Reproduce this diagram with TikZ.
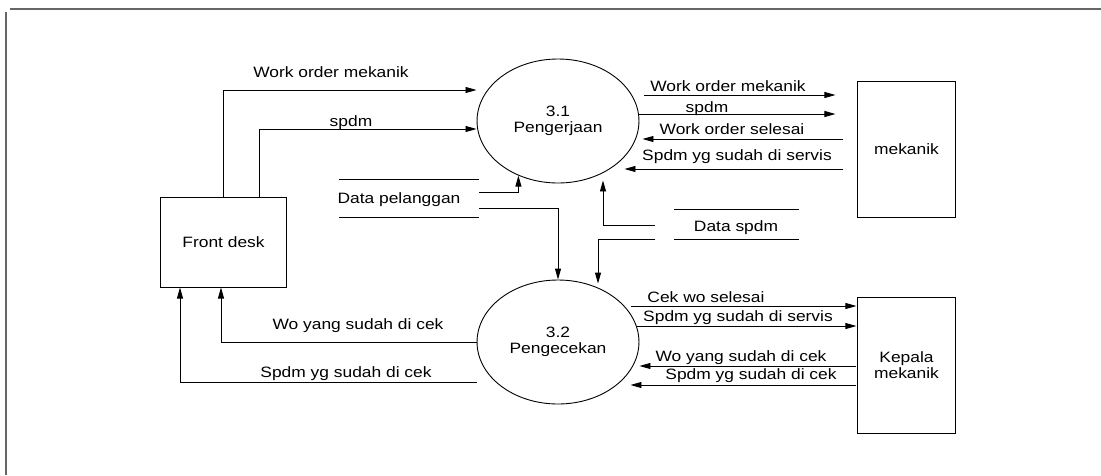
\documentclass[tikz,border=0pt]{standalone}
\usepackage{fontspec}
\setmainfont{Liberation Sans}
\usepackage{tikz}
\usetikzlibrary{arrows.meta, shapes.geometric, positioning}
\tikzset{proses/.style={draw, ellipse, line width=.9pt, minimum width=139.6pt, minimum height=124pt, inner sep=0pt, align=center, font=\fontsize{15}{16}\selectfont, xscale=1.16, transform shape},
	entitas/.style={draw, rectangle, line width=1pt, inner sep=0pt, align=center, font=\fontsize{15}{16}\selectfont, xscale=1.16, transform shape},
	lbl/.style={inner sep=0pt, text height=10.7pt, text depth=0pt, font=\fontsize{15}{16}\selectfont, xscale=1.16, transform shape},
	alir/.style={line width=.9pt, -{Triangle[length=11pt,width=6pt]}},
	simpan/.style={line width=.9pt},
	bingkai/.style={black!60, line width=1.3pt}}

\begin{document}
\begin{tikzpicture}[x=1pt, y=-1pt]
	
	\useasboundingbox (0,0) rectangle (1101,475);
	\draw [bingkai] (10,9) -- (1101,9);
	\draw [bingkai] (6,12) -- (6,475);
	
	\node [proses] (p1) at (558,121) {3.1\\Pengerjaan};
	\node [proses] (p2) at (558,342) {3.2\\Pengecekan};
	
	\node [entitas, minimum width=107.8pt, minimum height=90pt] (fd) at (223.5,242) {Front desk};
	\node [entitas, minimum width=85.3pt, minimum height=136pt] (mk) at (906.5,149) {mekanik};
	\node [entitas, minimum width=85.3pt, minimum height=136pt] (kp) at (906.5,365) {Kepala\\mekanik};
	
	
	\node [lbl] (dp) at (399,198) {Data pelanggan};
	\draw [simpan] (339,179) -- (479,179) (339,217) -- (479,217);
	\coordinate (dpk) at (479,198);
	
	\node [lbl] (dsp) at (736,226) {Data spdm};
	\draw [simpan] (674,209) -- (799,209) (674,239) -- (799,239);
	\coordinate (dsk) at (655,232);
	
	
	\draw [alir] (fd.north) |- ([yshift=31pt]p1.west);
	\node [lbl] (l1) at (331,72) {Work order mekanik};
	\draw [alir] ([xshift=36pt]fd.north) |- ([yshift=-8pt]p1.west);
	\node [lbl] (l2) at (351,121) {spdm};
	
	\draw [alir] ([yshift=6pt]dpk) -| (p1.238);
	\draw [alir] ([yshift=-10pt]dpk) -| (p2.north);
	\draw [alir] ([yshift=7pt]dsk) -| ([xshift=45pt, yshift=3pt]p1.south);
	\draw [alir] ([yshift=-7pt]dsk) -| ([xshift=40pt, yshift=-4pt]p2.north);
	
	
	\draw [alir] ([xshift=5pt, yshift=26pt]p1.east) -- ([xshift=-21pt, yshift=54pt]mk.west);
	\node [lbl] (l3) at (728,86) {Work order mekanik};
	\draw [alir] ([yshift=7pt]p1.east) -- ([xshift=-21pt, yshift=35pt]mk.west);
	\node [lbl] (l4) at (707,107) {spdm};
	\draw [alir] ([xshift=-13pt, yshift=10pt]mk.west) -- ([xshift=3pt, yshift=-18pt]p1.east);
	\node [lbl] (l5) at (732,129) {Work order selesai};
	\draw [alir] ([xshift=-13pt, yshift=-20pt]mk.west) -- ([xshift=-15pt, yshift=-48pt]p1.east);
	\node [lbl] (l6) at (737,155) {Spdm yg sudah di servis};
	
	
	\draw [alir] ([xshift=-8pt, yshift=36pt]p2.east) -- ([yshift=59pt]kp.west);
	\node [lbl] (l7) at (706,297) {Cek wo selesai};
	\draw [alir] ([xshift=-2pt, yshift=16pt]p2.east) -- ([yshift=39pt]kp.west);
	\node [lbl] (l8) at (738,316) {Spdm yg sudah di servis};
	\draw [alir] ([yshift=-1pt]kp.west) -- ([yshift=-24pt]p2.east);
	\node [lbl] (l9) at (741,356) {Wo yang sudah di cek};
	\draw [alir] ([yshift=-20pt]kp.west) -- ([xshift=-9pt, yshift=-43pt]p2.east);
	\node [lbl] (l10) at (751,374) {Spdm yg sudah di cek};
	
	
	\draw [alir] (p2.west) -| ([xshift=-2.5pt]fd.south);
	\node [lbl] (l11) at (358,324) {Wo yang sudah di cek};
	\draw [alir] ([yshift=-40pt]p2.west) -| ([xshift=-43.5pt]fd.south);
	\node [lbl] (l12) at (346,372) {Spdm yg sudah di cek};
	
\end{tikzpicture}
\end{document}
